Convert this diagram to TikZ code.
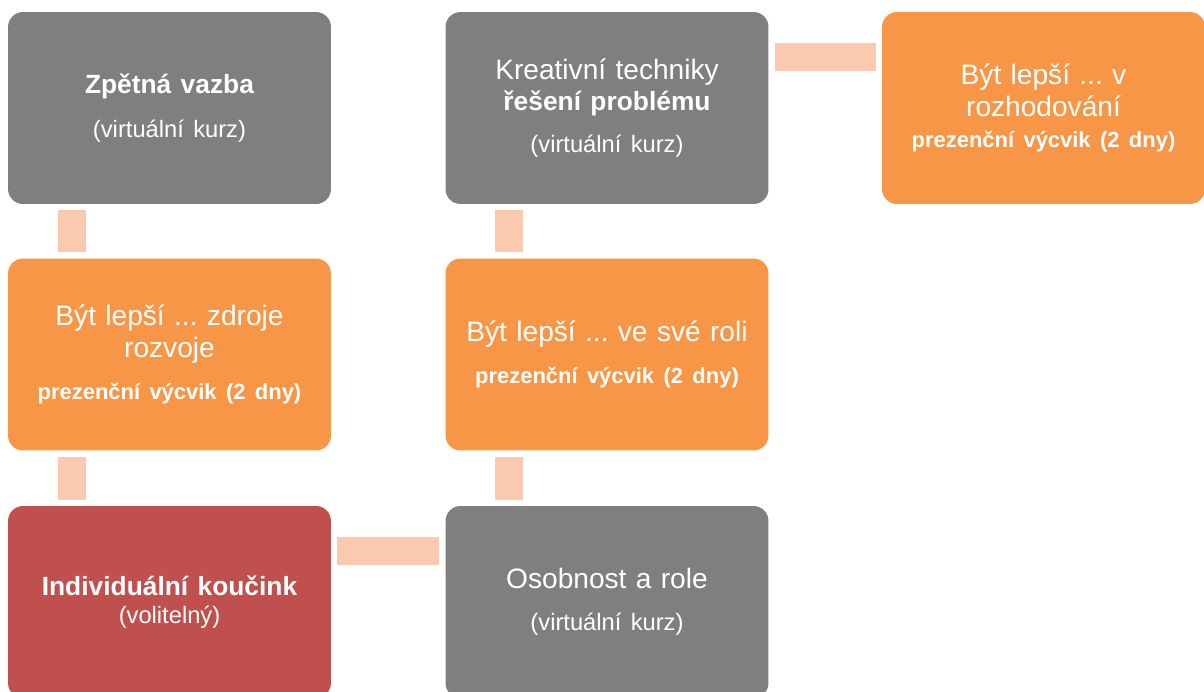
\documentclass[tikz,border=0pt]{standalone}
\usepackage{fontspec}
\setmainfont{Liberation Sans}
\usetikzlibrary{calc}
\definecolor{boxgray}{HTML}{7F7F7F}
\definecolor{boxorange}{HTML}{F79646}
\definecolor{boxred}{HTML}{C0504D}
\definecolor{linkpeach}{HTML}{FAC9B0}
\frenchspacing
\newcommand{\subtxt}[1]{{\fontsize{13.5}{18}\selectfont #1}}
\newcommand{\daytxt}[1]{{\fontsize{12.5}{18}\selectfont\bfseries #1}}
\newcommand{\headtxt}[1]{{\fontsize{15}{18}\selectfont\bfseries #1}}
\begin{document}
\begin{tikzpicture}[x=0.02cm,y=-0.02cm,
    course/.style={rectangle, rounded corners=0.3cm, minimum width=6.46cm,
      minimum height=3.84cm, inner sep=0pt, text width=6.2cm, align=center,
      text=white, font=\fontsize{16}{18}\selectfont},
    virtual/.style={course, fill=boxgray},
    presence/.style={course, fill=boxorange},
    coaching/.style={course, fill=boxred},
    link/.style={draw=linkpeach, line width=0.56cm}]
  \useasboundingbox (0,0) rectangle (1204,691);
  \clip (0,0) rectangle (1204,691);
  \node[virtual] (zpetna) at (169.5,108)
    {\headtxt{Zpětná vazba}\\[7pt]\subtxt{(virtuální kurz)}};
  \node[virtual] (kreativ) at (607,108)
    {Kreativní techniky\\\headtxt{řešení problému}\\[6pt]\subtxt{(virtuální kurz)}};
  \node[presence] (rozhod) at (1043.5,108)
    {Být lepší ... v\\rozhodování\\\daytxt{prezenční výcvik (2 dny)}};
  \node[presence] (zdroje) at (169.5,354.5)
    {Být lepší ... zdroje\\rozvoje\\[6pt]\daytxt{prezenční výcvik (2 dny)}};
  \node[presence] (role) at (607,354.5)
    {Být lepší ... ve své roli\\[6pt]\daytxt{prezenční výcvik (2 dny)}};
  \node[coaching] (koucink) at (169.5,602)
    {\headtxt{Individuální koučink}\\[-2pt]\subtxt{(volitelný)}};
  \node[virtual] (osobnost) at (607,602)
    {Osobnost a role\\[6pt]\subtxt{(virtuální kurz)}};
  \begin{scope}[link]
    \draw ($(zpetna.south west)+(64,6)$) -- ($(zdroje.north west)+(64,-6)$);
    \draw ($(zdroje.south west)+(64,6)$) -- ($(koucink.north west)+(64,-6)$);
    \draw ($(koucink.north east)+(6,45)$) -- ($(osobnost.north west)+(-6,45)$);
    \draw ($(osobnost.north west)+(64,-6)$) -- ($(role.south west)+(64,6)$);
    \draw ($(role.north west)+(64,-6)$) -- ($(kreativ.south west)+(64,6)$);
    \draw ($(kreativ.north east)+(6,45.5)$) -- ($(rozhod.north west)+(-6,45.5)$);
  \end{scope}
\end{tikzpicture}
\end{document}
